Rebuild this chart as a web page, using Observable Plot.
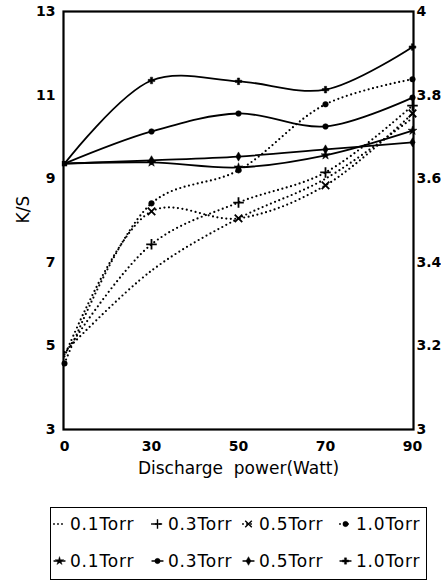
<!DOCTYPE html>
<html><head><meta charset="utf-8">
<script src="https://cdn.jsdelivr.net/npm/d3@7"></script>
<script src="https://cdn.jsdelivr.net/npm/@observablehq/plot@0.6"></script>
<style>
body{margin:0;background:#fff;font-family:"DejaVu Sans",sans-serif;}
#chart{position:absolute;left:0;top:0;}
#chart g[aria-label$="tick label"]{font-weight:bold;}
#legend{position:absolute;left:50px;top:507px;width:377px;height:73px;border:1px solid #000;box-sizing:border-box;font-size:17px;letter-spacing:0.8px;color:#000;}
.item{position:absolute;display:flex;align-items:center;height:20px;white-space:nowrap;}
.item svg{margin-right:4px;}
</style></head><body>
<div id="chart"></div>
<div id="legend"></div>
<script>
// x categories (Watt)
const power = [0, 30, 50, 70, 90];
// dotted series (K/S)
const dot01 = [4.85, 6.80, 8.05, 9.00, 10.45];
const dot03 = [4.80, 7.43, 8.43, 9.15, 10.75];
const dot05 = [4.75, 8.22, 8.05, 8.84, 10.56];
const dot10 = [4.58, 8.41, 9.20, 10.78, 11.38];
// solid series (K/S)
const sol01 = [9.36, 9.39, 9.27, 9.56, 10.15];
const sol03 = [9.36, 10.13, 10.56, 10.25, 10.94];
const sol05 = [9.36, 9.44, 9.53, 9.70, 9.87];
const sol10 = [9.36, 11.35, 11.33, 11.13, 12.15];
// tick labels
const leftTicks = [3, 5, 7, 9, 11, 13];
const rightLabels = ["3", "3.2", "3.4", "3.6", "3.8", "4"];
const legendLabels = ["0.1Torr", "0.3Torr", "0.5Torr", "1.0Torr"];

const series = [
  {name:"d01", values:dot01, dashed:true, symbol:null},
  {name:"d03", values:dot03, dashed:true, symbol:"plus"},
  {name:"d05", values:dot05, dashed:true, symbol:"times"},
  {name:"d10", values:dot10, dashed:true, symbol:"circle"},
  {name:"s01", values:sol01, dashed:false, symbol:"star"},
  {name:"s03", values:sol03, dashed:false, symbol:"circle"},
  {name:"s05", values:sol05, dashed:false, symbol:"diamond"},
  {name:"s10", values:sol10, dashed:false, symbol:"cross"}
];

const marks = [];
for (const s of series) {
  const data = s.values.map((v, i) => ({x: power[i], y: v}));
  marks.push(Plot.line(data, {x:"x", y:"y", curve:"catmull-rom", stroke:"#000",
    strokeWidth: s.dashed ? 2.2 : 1.8,
    strokeDasharray: s.dashed ? "0,4.5" : null,
    strokeLinecap: "round"}));
  if (s.symbol) {
    const stroked = s.symbol === "plus" || s.symbol === "times";
    marks.push(Plot.dot(data.slice(1), {x:"x", y:"y", symbol:s.symbol, r: stroked ? 3.5 : 2.8,
      fill: stroked ? "none" : "#000", stroke:"#000", strokeWidth: stroked ? 1.8 : 0.5}));
  }
}
marks.push(Plot.dot([{x:0, y:dot10[0]}], {x:"x", y:"y", r:3, fill:"#000"}));
marks.push(Plot.dot([{x:0, y:sol10[0]}], {x:"x", y:"y", symbol:"square", r:3, fill:"#000"}));

const chart = Plot.plot({
  width: 441, height: 490,
  marginLeft: 63, marginRight: 28, marginTop: 11, marginBottom: 61,
  x: {type: "point", domain: power, padding: 0},
  y: {domain: [3, 13]},
  style: {fontFamily: "'DejaVu Sans', sans-serif", color: "#000", background: "#fff"},
  marks: [
    ...marks,
    Plot.frame({stroke: "#000", strokeWidth: 2.2}),
    Plot.axisY({ticks: leftTicks, tickSize: 0, tickPadding: 8, fontSize: 14, label: null}),
    Plot.axisY({anchor: "right", ticks: leftTicks, tickFormat: (d) => rightLabels[leftTicks.indexOf(d)], tickSize: 0, tickPadding: 3, fontSize: 14, label: null}),
    Plot.axisX({ticks: power, tickSize: 0, tickPadding: 12, fontSize: 14, label: null}),
    Plot.text(["Discharge  power(Watt)"], {frameAnchor: "bottom", dy: 44, fontSize: 17, text: d => d}),
    Plot.text(["K/S"], {frameAnchor: "left", dx: -40, dy: 3, rotate: -90, fontSize: 17, text: d => d})
  ]
});
document.getElementById("chart").append(chart);

// legend
const legend = document.getElementById("legend");
const ns = "http://www.w3.org/2000/svg";
function swatch(dashed, symbol, w) {
  const svg = document.createElementNS(ns, "svg");
  svg.setAttribute("width", w); svg.setAttribute("height", 12);
  const line = document.createElementNS(ns, "line");
  line.setAttribute("x1", 1); line.setAttribute("x2", w - 1);
  line.setAttribute("y1", 6); line.setAttribute("y2", 6);
  line.setAttribute("stroke", "#000");
  line.setAttribute("stroke-width", dashed ? 1.8 : 1.3);
  line.setAttribute("stroke-linecap", "round");
  if (dashed) line.setAttribute("stroke-dasharray", "0,4");
  svg.append(line);
  if (symbol) {
    const p = document.createElementNS(ns, "path");
    const sym = {circle: d3.symbolCircle, plus: d3.symbolPlus, times: d3.symbolTimes, star: d3.symbolStar, diamond: d3.symbolDiamond, cross: d3.symbolCross}[symbol];
    const stroked = symbol === "plus" || symbol === "times";
    p.setAttribute("d", d3.symbol(sym, stroked ? 30 : 22)());
    p.setAttribute("transform", `translate(${w/2},6)`);
    p.setAttribute("fill", stroked ? "none" : "#000");
    p.setAttribute("stroke", "#000");
    p.setAttribute("stroke-width", stroked ? 1.4 : 0.4);
    svg.append(p);
  }
  return svg;
}
const xs = [2, 100, 191, 288];
const rowsY = [6, 43];
series.forEach((s, i) => {
  const col = i % 4, row = Math.floor(i / 4);
  const div = document.createElement("div");
  div.className = "item";
  div.style.left = xs[col] + "px";
  div.style.top = rowsY[row] + "px";
  div.append(swatch(s.dashed, s.symbol, 13));
  const span = document.createElement("span");
  span.textContent = legendLabels[col];
  div.append(span);
  legend.append(div);
});
</script>
</body></html>
